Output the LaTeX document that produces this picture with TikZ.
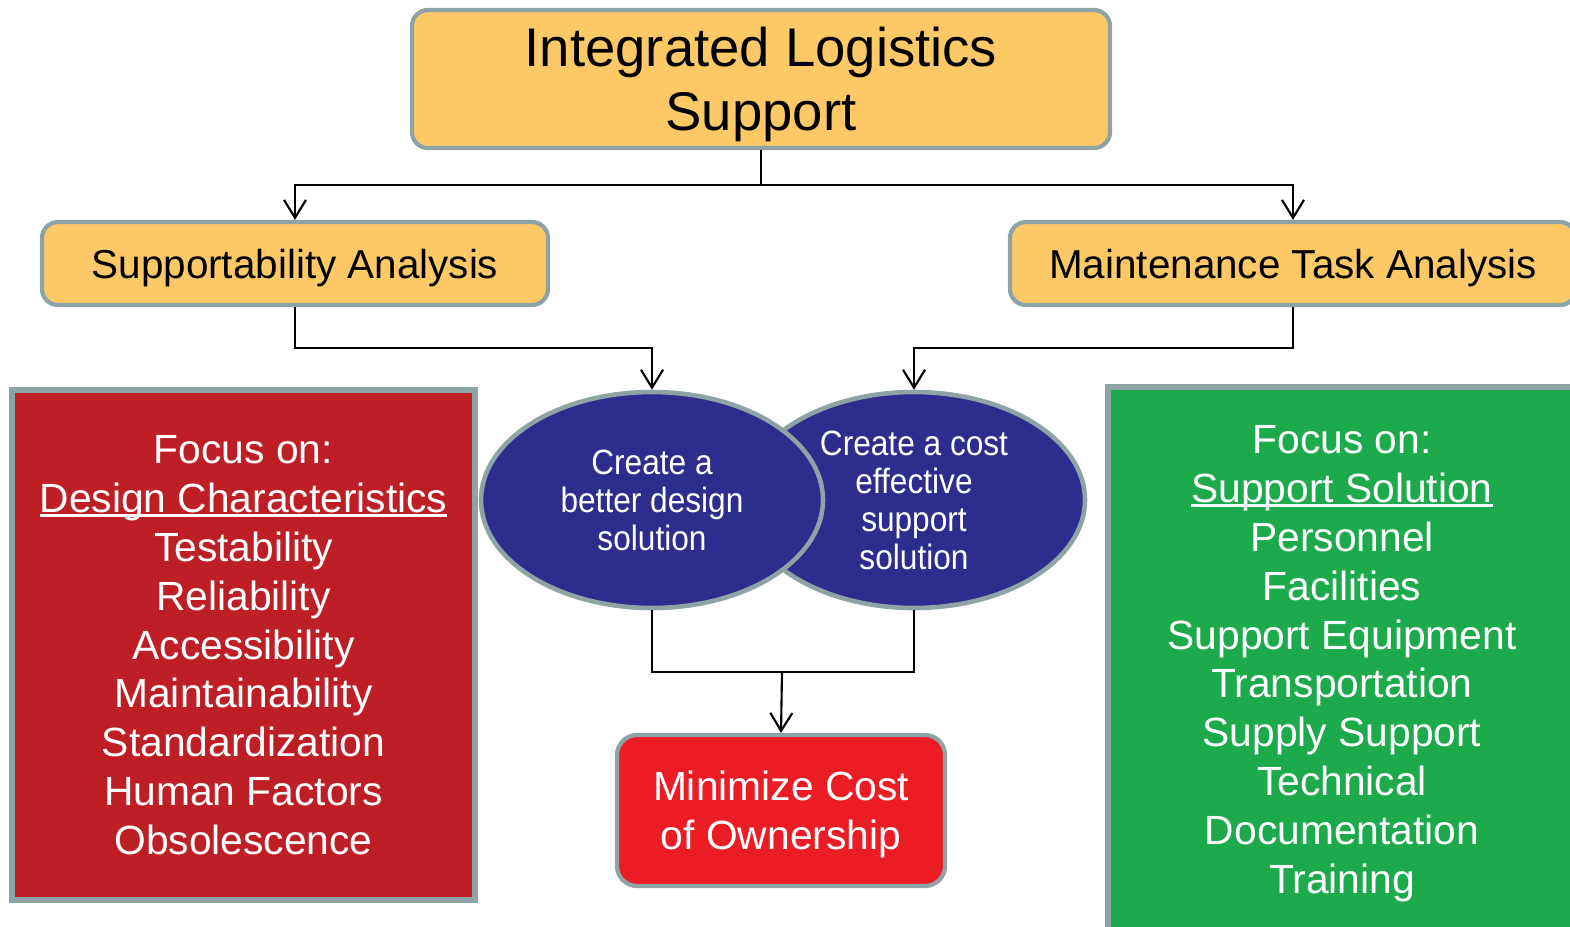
\documentclass[tikz,border=0pt]{standalone}
\usepackage{fontspec}
\setmainfont{Liberation Sans}
\newfontfamily\narrowsans{Liberation Sans}[FakeStretch=0.9]
\usetikzlibrary{shapes.geometric,arrows.meta}
\definecolor{boxorange}{RGB}{253,201,103}
\definecolor{boxedge}{RGB}{141,163,166}
\definecolor{darkred}{RGB}{190,30,38}
\definecolor{leafgreen}{RGB}{28,170,76}
\definecolor{navy}{RGB}{44,45,140}
\definecolor{brightred}{RGB}{236,28,36}
\newcommand\undertext[1]{\setbox0=\hbox{#1}\rlap{\rule[-0.1em]{\wd0}{0.055em}}\box0}
\tikzset{
  topbox/.style={draw=boxedge, line width=1.2pt, fill=boxorange, rounded corners=0.16cm,
    align=center, inner sep=0pt, text depth=0pt},
  focusbox/.style={draw=boxedge, line width=1.6pt, text=white, align=center, inner sep=0pt,
    text depth=0pt, font=\fontsize{11.6}{13.9}\selectfont},
  goal/.style={ellipse, draw=boxedge, line width=1.3pt, fill=navy, text=white, align=center,
    inner sep=0pt, minimum width=3.42cm, minimum height=2.16cm,
    font=\narrowsans\fontsize{10}{10.8}\selectfont},
  link/.style={line width=0.6pt},
  arr/.style={line width=0.6pt, -{Straight Barb[length=1.8mm,width=2.2mm]}}
}
\begin{document}
\begin{tikzpicture}
  \useasboundingbox (0,0) rectangle (15.70,-9.26);
  % boxes
  \node[topbox, minimum width=6.98cm, minimum height=1.38cm,
    font=\fontsize{15.5}{18.2}\selectfont] (ils) at (7.61,-0.79) {Integrated Logistics\\Support};
  \node[topbox, minimum width=5.06cm, minimum height=0.83cm,
    font=\fontsize{11.5}{13.8}\selectfont] (sa) at (2.95,-2.635) {Supportability Analysis};
  \node[topbox, minimum width=5.66cm, minimum height=0.83cm,
    font=\fontsize{11.5}{13.8}\selectfont] (mta) at (12.93,-2.635) {Maintenance Task Analysis};
  \node[focusbox, fill=darkred, minimum width=4.63cm, minimum height=5.10cm] (design) at (2.435,-6.45)
    {Focus on:\\\undertext{Design Characteristics}\\Testability\\Reliability\\Accessibility\\
     Maintainability\\Standardization\\Human Factors\\Obsolescence};
  \node[focusbox, fill=leafgreen, minimum width=4.68cm, minimum height=5.45cm] (support) at (13.42,-6.595)
    {Focus on:\\\undertext{Support Solution}\\Personnel\\Facilities\\Support Equipment\\
     Transportation\\Supply Support\\Technical\\Documentation\\Training};
  \node[goal] (cost) at (9.14,-5.00) {Create a cost\\effective\\support\\solution};
  \node[goal] (better) at (6.52,-5.00) {Create a\\better design\\solution};
  \node[topbox, fill=brightred, text=white, rounded corners=0.2cm, minimum width=3.28cm,
    minimum height=1.51cm, font=\fontsize{11.6}{14}\selectfont] (mini) at (7.81,-8.105)
    {Minimize Cost\\of Ownership};
  % connectors
  \coordinate (jtop) at (7.61,-1.85);
  \coordinate (jbot) at (7.82,-6.72);
  \draw[link] (ils.south) -- (jtop);
  \draw[arr] (jtop) -| (sa.north);
  \draw[arr] (jtop) -| (mta.north);
  \draw[arr] (sa.south) |- (6.52,-3.48) -- (better.north);
  \draw[arr] (mta.south) |- (9.14,-3.48) -- (cost.north);
  \draw[link] (better.south) |- (jbot) -| (cost.south);
  \draw[arr] (jbot) -- (mini.north);
\end{tikzpicture}
\end{document}
